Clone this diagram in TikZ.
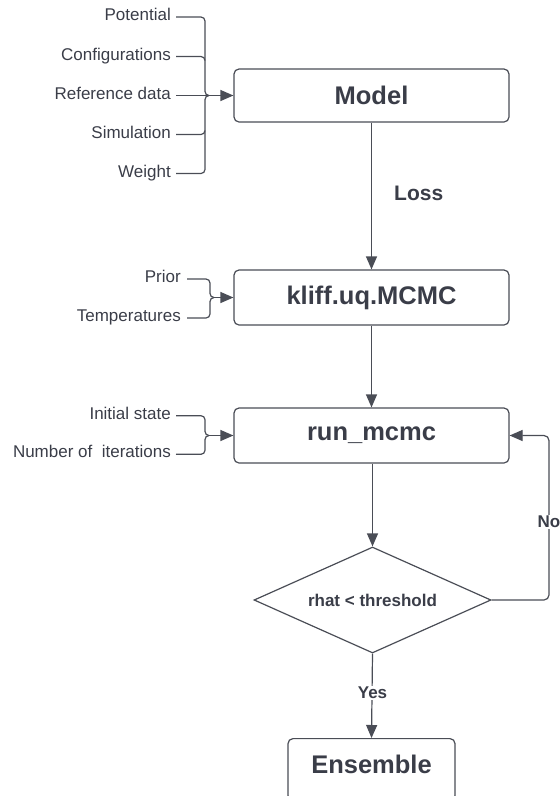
\documentclass[tikz,border=0pt]{standalone}
\usepackage{fontspec}
\setmainfont{Liberation Sans}
\usetikzlibrary{arrows.meta,shapes.geometric,calc}
\definecolor{txt}{HTML}{3A3D48}
\definecolor{ln}{HTML}{4A4D56}
\begin{document}
\begin{tikzpicture}[x=1pt,y=-1pt,
  box/.style={draw=ln, line width=1.2pt, rounded corners=5pt, text=txt,
    font=\bfseries\fontsize{25.5}{30}\selectfont, minimum width=275pt, inner sep=0pt},
  lbl/.style={text=txt, font=\fontsize{17}{20}\selectfont, anchor=base east, inner sep=0pt},
  conn/.style={draw=ln, line width=1.2pt},
  arr/.style={conn, -{Triangle[length=13pt,width=11pt]}},
  edgelbl/.style={text=txt, font=\bfseries\fontsize{17}{20}\selectfont, fill=white, inner sep=1pt}]
\useasboundingbox (0,0) rectangle (560,796);
\clip (0,0) rectangle (560,796);

% main boxes
\node[box, minimum height=53pt] (model) at (371.5,95.5) {Model};
\node[box, minimum height=55pt] (kliff) at (371.5,297.5) {kliff.uq.MCMC};
\node[box, minimum height=55pt] (run) at (371.5,435.5) {run\_mcmc};
\node[diamond, draw=ln, line width=1.2pt, shape aspect=2.24, minimum width=237pt, minimum height=106pt,
  inner sep=0pt, text=txt, font=\bfseries\fontsize{17}{20}\selectfont] (dia) at (372.5,600) {rhat < threshold};
\node[draw=ln, line width=1.2pt, rounded corners=5pt, minimum width=167pt, minimum height=62pt, inner sep=0pt,
  anchor=north] (ens) at (371.5,738) {};
\node[text=txt, font=\bfseries\fontsize{25.5}{30}\selectfont, inner sep=0pt] (enst) at (371.5,764) {Ensemble};

% main connectors
\draw[arr] (model.south) -- (kliff.north);
\node[text=txt, font=\bfseries\fontsize{21}{24}\selectfont, anchor=west, inner sep=0pt] (loss) at (394,193) {Loss};
\draw[arr] (kliff.south) -- (run.north);
\draw[arr] ($(run.south)+(1,0)$) -- (dia.north);
\draw[arr] (dia.south) -- (ens.north);
\node[edgelbl] (yes) at (372.5,693) {Yes};
\coordinate (lpa) at (549,600);
\coordinate (lpb) at (549,435.5);
\draw[arr, rounded corners=5pt] (dia.east) -- (lpa) -- (lpb) -- (run.east);
\node[edgelbl] (no) at (549,522) {No};

% input group 1
\node[lbl] (pot) at (171,20.5) {Potential};
\node[lbl] (cfg) at (171,60) {Configurations};
\node[lbl] (ref) at (171,99) {Reference data};
\node[lbl] (sim) at (171,138) {Simulation};
\node[lbl] (wgt) at (171,177) {Weight};
\coordinate (m1) at (209,95.5);
\draw[conn] ($(pot.base east)+(5,-3.5)$) -- (201,17) to[out=0,in=90] (205,21) -- (205,91.5) to[out=-90,in=180] (m1);
\draw[conn] ($(wgt.base east)+(5,-3.5)$) -- (201,173.5) to[out=0,in=-90] (205,169.5) -- (205,99.5) to[out=90,in=180] (m1);
\draw[conn] ($(cfg.base east)+(5,-3.5)$) -- (201,56.5) to[out=0,in=90] (205,60.5);
\draw[conn] ($(sim.base east)+(5,-3.5)$) -- (201,134.5) to[out=0,in=-90] (205,130.5);
\draw[arr] ($(ref.base east)+(5,-3.5)$) -- (model.west);

% input group 2
\node[lbl] (pri) at (181,282) {Prior};
\node[lbl] (tmp) at (181,321) {Temperatures};
\coordinate (m2) at (214,297.5);
\draw[conn] ($(pri.base east)+(6,-3)$) -- (206,279) to[out=0,in=90] (210,283) -- (210,293.5) to[out=-90,in=180] (m2);
\draw[conn] ($(tmp.base east)+(6,-3)$) -- (206,318) to[out=0,in=-90] (210,314) -- (210,301.5) to[out=90,in=180] (m2);
\draw[arr] (m2) -- (kliff.west);

% input group 3
\node[lbl] (ini) at (171,419) {Initial state};
\node[lbl] (nit) at (171,457.5) {Number of\ \ iterations};
\coordinate (m3) at (209,435.5);
\draw[conn] ($(ini.base east)+(5,-3.3)$) -- (201,415.7) to[out=0,in=90] (205,419.7) -- (205,431.5) to[out=-90,in=180] (m3);
\draw[conn] ($(nit.base east)+(5,-3.3)$) -- (201,454.3) to[out=0,in=-90] (205,450.3) -- (205,439.5) to[out=90,in=180] (m3);
\draw[arr] (m3) -- (run.west);
\end{tikzpicture}
\end{document}
